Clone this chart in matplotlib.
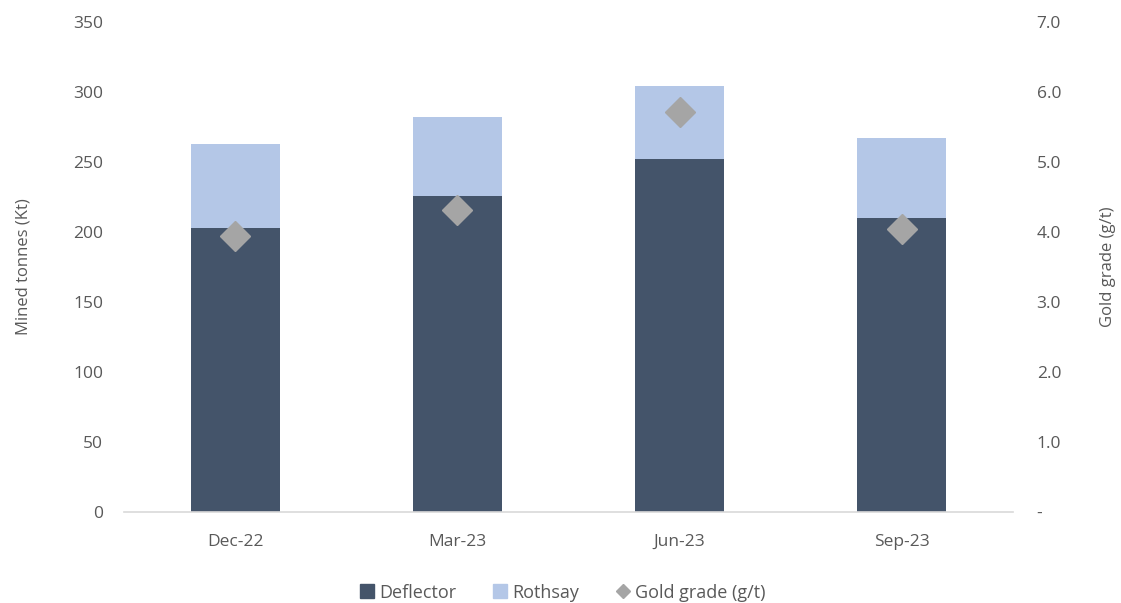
import matplotlib.pyplot as plt
import numpy as np
from matplotlib.lines import Line2D
from matplotlib.ticker import FuncFormatter

plt.rcParams['font.family'] = ['Open Sans', 'DejaVu Sans']

quarters = ["Dec-22", "Mar-23", "Jun-23", "Sep-23"]
deflector = [203, 226, 252, 210]
rothsay = [60, 56, 52, 57]
gold_grade = [3.95, 4.31, 5.72, 4.04]

dark = "#44546A"
light = "#B4C7E7"
grey = "#A5A5A5"
text_col = "#595959"

fig = plt.figure(figsize=(11.21, 6.03), dpi=100)
ax = fig.add_axes([0.1106, 0.1509, 0.7931, 0.8126])
x = np.arange(len(quarters))

ax.bar(x, deflector, width=0.4, color=dark, zorder=2)
ax.bar(x, rothsay, width=0.4, bottom=deflector, color=light, zorder=2)

ax.set_xlim(-0.5, len(quarters) - 0.5)
ax.set_ylim(0, 350)
ax.set_yticks(range(0, 351, 50))
ax.set_xticks(x)
ax.set_xticklabels(quarters)
for s in ["top", "left", "right"]:
    ax.spines[s].set_visible(False)
ax.spines["bottom"].set_color("#D9D9D9")
ax.spines["bottom"].set_linewidth(1.2)
ax.tick_params(axis="both", length=0, colors=text_col, labelsize=12.5)
ax.tick_params(axis="x", pad=16)
ax.tick_params(axis="y", pad=15)
ax.set_ylabel("Mined tonnes (Kt)", color=text_col, fontsize=12, labelpad=30)

ax2 = ax.twinx()
ax2.plot(x, gold_grade, linestyle="none", marker="D", markersize=15.5,
         color=grey, zorder=3)
ax2.set_ylim(0, 7)
ax2.set_yticks(np.arange(0, 7.1, 1))
ax2.yaxis.set_major_formatter(FuncFormatter(lambda v, p: "-" if v == 0 else f"{v:.1f}"))
for s in ["top", "left", "right", "bottom"]:
    ax2.spines[s].set_visible(False)
ax2.tick_params(axis="y", length=0, colors=text_col, labelsize=12.5, pad=17)
ax2.set_ylabel("Gold grade (g/t)", color=text_col, fontsize=12, labelpad=28)

handles = [
    Line2D([], [], linestyle="none", marker="s", markersize=10, color=dark),
    Line2D([], [], linestyle="none", marker="s", markersize=10, color=light),
    Line2D([], [], linestyle="none", marker="D", markersize=7, color=grey),
]
leg = fig.legend(handles, ["Deflector", "Rothsay", "Gold grade (g/t)"],
                 loc="center", bbox_to_anchor=(0.502, 0.017), ncol=3,
                 frameon=False, fontsize=13, handlelength=0.8,
                 handletextpad=0.3, columnspacing=2.0)
for t in leg.get_texts():
    t.set_color(text_col)

fig.savefig("out.png", dpi=100)
